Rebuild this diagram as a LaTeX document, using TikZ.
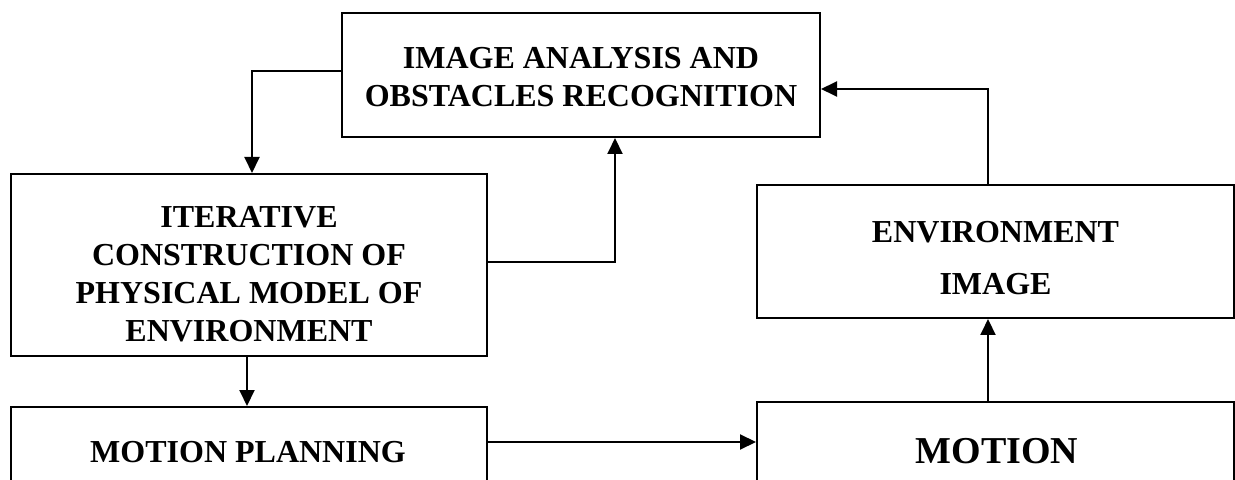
\documentclass[tikz,border=0pt]{standalone}
\usepackage{fontspec}
\setmainfont{Liberation Serif}
\usetikzlibrary{arrows.meta}
\begin{document}
\begin{tikzpicture}[x=0.5pt,y=-0.5pt,
  box/.style={draw, line width=1pt, rectangle, inner sep=0pt},
  txt/.style={font=\bfseries\fontsize{16}{19}\selectfont, align=center, inner sep=0pt},
  arr/.style={-{Triangle[length=8pt,width=7.5pt]}, line width=1pt}]
\clip (0,0) rectangle (1235,480);
\fill[white] (0,0) rectangle (1235,480);
% boxes
\node[box, minimum width=239pt, minimum height=62pt] (T) at (581,75) {};
\node[box, minimum width=238pt, minimum height=91pt] (L) at (249,265) {};
\node[box, minimum width=238.5pt, minimum height=66.5pt] (R) at (995.5,251.5) {};
\node[box, minimum width=238pt, minimum height=70pt] (MP) at (249,477) {};
\node[box, minimum width=238.5pt, minimum height=70pt] (M) at (995.5,472) {};
% texts
\node[txt] (Tt) at (581,77) {IMAGE ANALYSIS AND\\OBSTACLES RECOGNITION};
\node[txt] (Lt) at (249,274) {ITERATIVE\\CONSTRUCTION OF\\PHYSICAL MODEL OF\\ENVIRONMENT};
\node[txt, font=\bfseries\fontsize{16}{26}\selectfont] (Rt) at (995.5,258.5) {ENVIRONMENT\\IMAGE};
\node[txt] (MPt) at (248,452.5) {MOTION PLANNING};
\node[txt, font=\bfseries\fontsize{19}{23}\selectfont] (Mt) at (997,451.5) {MOTION};
% connector helper coordinates
\coordinate (c1) at (252,71);
\coordinate (c2) at (615,262);
\coordinate (c3) at (988,89);
\coordinate (c4) at (247,0);
\coordinate (c5) at (0,442);
% connectors
\draw[arr] (T.west |- c1) -| (c1 |- L.north);
\draw[arr] (L.east |- c2) -| (c2 |- T.south);
\draw[arr] (c3 |- R.north) |- (T.east |- c3);
\draw[arr] (c4 |- L.south) -- (c4 |- MP.north);
\draw[arr] (MP.east |- c5) -- (M.west |- c5);
\draw[arr] (c3 |- M.north) -- (c3 |- R.south);
\end{tikzpicture}
\end{document}
